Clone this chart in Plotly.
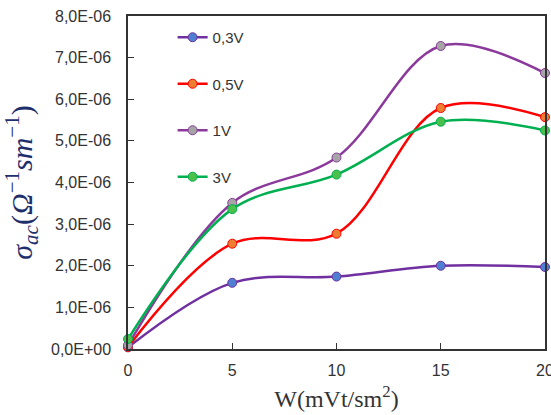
import plotly.graph_objects as go

x_vals = [0, 5, 10, 15, 20]
series_names = ["0,3V", "0,5V", "1V", "3V"]
v03 = [0.04e-6, 1.59e-6, 1.74e-6, 2.00e-6, 1.97e-6]
v05 = [0.05e-6, 2.53e-6, 2.77e-6, 5.79e-6, 5.57e-6]
v1 = [0.09e-6, 3.51e-6, 4.60e-6, 7.28e-6, 6.63e-6]
v3 = [0.24e-6, 3.36e-6, 4.19e-6, 5.46e-6, 5.25e-6]
y_tickvals = [0, 1e-6, 2e-6, 3e-6, 4e-6, 5e-6, 6e-6, 7e-6, 8e-6]
y_ticktext = ["0,0E+00", "1,0E-06", "2,0E-06", "3,0E-06", "4,0E-06",
              "5,0E-06", "6,0E-06", "7,0E-06", "8,0E-06"]
x_tickvals = [0, 5, 10, 15, 20]

line_colors = ["#7030A0", "#FF0000", "#8B3A9C", "#00B050"]
marker_colors = ["#4F7FD0", "#ED7D31", "#A5A5A5", "#4CC04C"]
all_y = [v03, v05, v1, v3]

fig = go.Figure()
for i, (name, ys) in enumerate(zip(series_names, all_y)):
    fig.add_trace(go.Scatter(
        x=x_vals, y=ys, name=name, mode="lines+markers",
        line=dict(color=line_colors[i], width=2.5, shape="spline", smoothing=1.0),
        marker=dict(color=marker_colors[i], size=9,
                    line=dict(color=line_colors[i], width=1)),
        cliponaxis=False, legendgroup=name,
    ))

fig.update_layout(
    width=551, height=415,
    margin=dict(l=128, r=6, t=16, b=66),
    paper_bgcolor="white", plot_bgcolor="white",
    showlegend=True,
    legend=dict(x=0.107, y=0.985, xanchor="left", yanchor="top",
                bgcolor="rgba(0,0,0,0)", tracegroupgap=24,
                font=dict(family="Liberation Sans", size=15, color="#333333")),
    font=dict(family="Liberation Sans", size=16, color="#333333"),
)
fig.update_xaxes(
    range=[0, 20], tickvals=x_tickvals, ticks="inside", ticklen=6,
    tickcolor="#333", showline=True, linecolor="#333", linewidth=1.5,
    mirror=True, showgrid=False, zeroline=False, automargin=False,
    ticklabeloverflow="allow", ticklabelstandoff=6,
    tickfont=dict(family="Liberation Sans", size=16, color="#333333"),
    title=dict(text="W(mVt/sm<sup>2</sup>)", standoff=12,
               font=dict(family="Liberation Serif", size=24, color="#333333")),
)
fig.update_yaxes(
    range=[0, 8e-6], tickvals=y_tickvals, ticktext=y_ticktext,
    ticks="inside", ticklen=6, tickcolor="#333", showline=True,
    linecolor="#333", linewidth=1.5, mirror=True, showgrid=False,
    zeroline=False, automargin=False, ticklabelstandoff=12,
    ticklabeloverflow="allow",
    tickfont=dict(family="Liberation Sans", size=16, color="#333333"),
    title=dict(text="<i>σ<sub>ac</sub></i>(<i>Ω</i><sup>−1</sup><i>sm</i><sup>−1</sup>)",
               standoff=12,
               font=dict(family="Liberation Serif", size=30, color="#1F2F6B")),
)

fig.write_html("out.html")
